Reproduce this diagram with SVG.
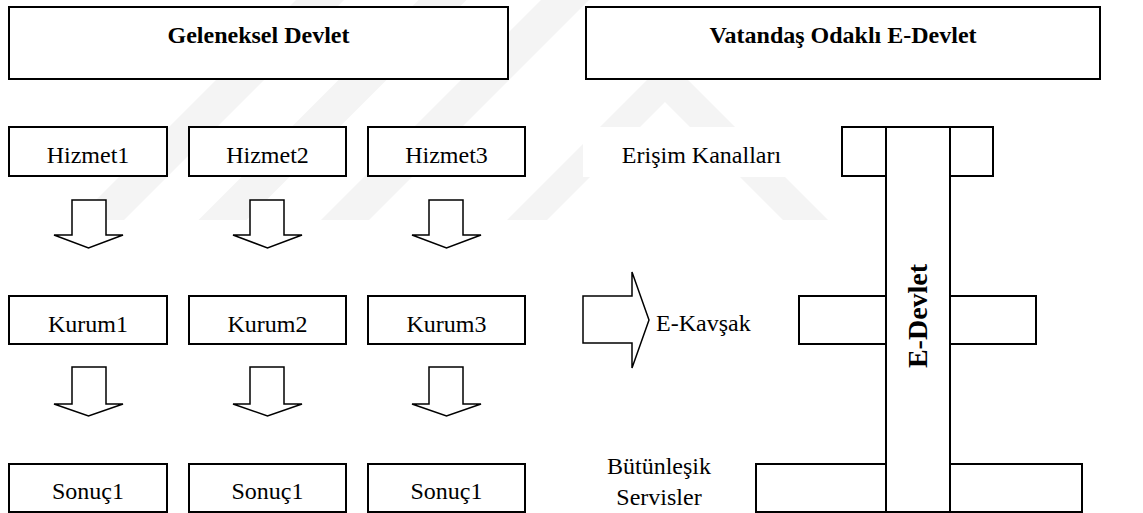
<svg xmlns="http://www.w3.org/2000/svg" width="1143" height="513" viewBox="0 0 1143 513">
  <style>
    .box { fill: #ffffff; stroke: #000000; stroke-width: 2; }
    .arr { fill: #ffffff; stroke: #000000; stroke-width: 1.5; stroke-linejoin: miter; }
    .wm { fill: #f4f4f4; stroke: none; }
    .t { font-family: "Liberation Serif", "Times New Roman", serif; font-size: 24px; fill: #000000; }
    .c { text-anchor: middle; }
    .b { font-weight: bold; }
  </style>
  <rect x="0" y="0" width="1143" height="513" fill="#ffffff"/>
  <g id="watermark">
    <polygon class="wm" points="301,-5 349,-5 124,220 76,220"/>
    <polygon class="wm" points="423.5,-5 471.5,-5 246.5,220 198.5,220"/>
    <polygon class="wm" points="546,-5 594,-5 369,220 321,220"/>
    <polygon class="wm" points="667.5,59.5 828,220 783,220 665,102 547,220 507,220"/>
  </g>
  <g id="title-geleneksel">
    <rect class="box" x="9" y="7" width="499" height="72"/>
    <text class="t b c" x="258.5" y="43">Geleneksel Devlet</text>
  </g>
  <g id="title-edevlet">
    <rect class="box" x="586" y="7" width="514" height="72"/>
    <text class="t b c" x="843" y="43">Vatandaş Odaklı E-Devlet</text>
  </g>
  <g id="hizmet1"><rect class="box" x="9" y="127" width="158" height="49"/><text class="t c" x="88" y="163">Hizmet1</text></g>
  <g id="hizmet2"><rect class="box" x="189" y="127" width="157" height="49"/><text class="t c" x="267.5" y="163">Hizmet2</text></g>
  <g id="hizmet3"><rect class="box" x="368" y="127" width="157" height="49"/><text class="t c" x="446.5" y="163">Hizmet3</text></g>
  <g id="kurum1"><rect class="box" x="9" y="296" width="158" height="48"/><text class="t c" x="88" y="332">Kurum1</text></g>
  <g id="kurum2"><rect class="box" x="189" y="296" width="157" height="48"/><text class="t c" x="267.5" y="332">Kurum2</text></g>
  <g id="kurum3"><rect class="box" x="368" y="296" width="157" height="48"/><text class="t c" x="446.5" y="332">Kurum3</text></g>
  <g id="sonuc1"><rect class="box" x="9" y="464" width="158" height="48"/><text class="t c" x="88" y="499">Sonuç1</text></g>
  <g id="sonuc2"><rect class="box" x="189" y="464" width="157" height="48"/><text class="t c" x="267.5" y="499">Sonuç1</text></g>
  <g id="sonuc3"><rect class="box" x="368" y="464" width="157" height="48"/><text class="t c" x="446.5" y="499">Sonuç1</text></g>
  <g id="connectors">
    <polygon class="arr" points="72,200 106,200 106,235 123,235 88.5,248 54,235 72,235"/>
    <polygon class="arr" points="250,200 284,200 284,235 302,235 267.5,248 233,235 250,235"/>
    <polygon class="arr" points="429,200 463,200 463,235 481,235 446.5,248 412,235 429,235"/>
    <polygon class="arr" points="72,367 106,367 106,404 123,404 88.5,416 54,404 72,404"/>
    <polygon class="arr" points="250,367 284,367 284,404 302,404 267.5,416 233,404 250,404"/>
    <polygon class="arr" points="429,367 463,367 463,404 481,404 446.5,416 412,404 429,404"/>
    <polygon class="arr" points="583,296 632,296 632,272 649,320 632,368 632,343 583,343"/>
  </g>
  <g id="erisim-kanallari">
    <rect x="583" y="127" width="253" height="50" fill="#ffffff"/>
    <text class="t c" x="701.5" y="163">Erişim Kanalları</text>
  </g>
  <g id="e-kavsak">
    <text class="t" x="656" y="331">E-Kavşak</text>
  </g>
  <g id="butunlesik-servisler">
    <text class="t c" x="659" y="474">Bütünleşik</text>
    <text class="t c" x="659" y="505">Servisler</text>
  </g>
  <g id="e-devlet">
    <rect class="box" x="842" y="127" width="151" height="49"/>
    <rect class="box" x="799" y="296" width="87" height="48"/>
    <rect class="box" x="950" y="296" width="86" height="48"/>
    <rect class="box" x="756" y="464" width="130" height="48"/>
    <rect class="box" x="950" y="464" width="132" height="48"/>
    <rect class="box" x="886" y="127" width="64" height="385"/>
    <text class="t b c" x="927" y="316" transform="rotate(-90 927 316)" style="font-size:28px">E-Devlet</text>
  </g>
</svg>
